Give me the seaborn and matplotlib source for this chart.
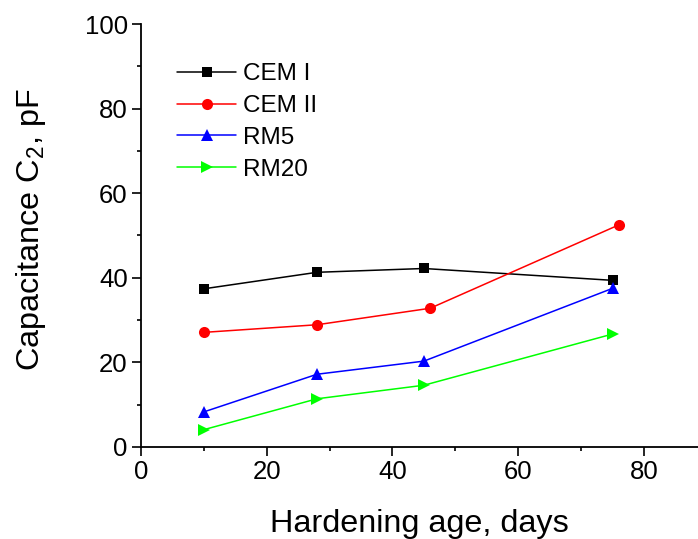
import matplotlib
matplotlib.use("Agg")
import matplotlib.pyplot as plt
import seaborn as sns
import pandas as pd
from matplotlib.ticker import MultipleLocator

series = ["CEM I", "CEM II", "RM5", "RM20"]
days_cem1 = [10, 28, 45, 75]
cap_cem1 = [37.4, 41.3, 42.2, 39.4]
days_cem2 = [10, 28, 46, 76]
cap_cem2 = [27.1, 28.9, 32.8, 52.5]
days_rm5 = [10, 28, 45, 75]
cap_rm5 = [8.3, 17.2, 20.3, 37.5]
days_rm20 = [10, 28, 45, 75]
cap_rm20 = [4.1, 11.4, 14.6, 26.7]

colors = {"CEM I": "#000000", "CEM II": "#ff0000", "RM5": "#0000ff", "RM20": "#00ff00"}
markers = {"CEM I": "s", "CEM II": "o", "RM5": "^", "RM20": ">"}
msizes = {"CEM I": 7, "CEM II": 8, "RM5": 9, "RM20": 9}

frames = []
for name, xs, ys in [("CEM I", days_cem1, cap_cem1), ("CEM II", days_cem2, cap_cem2),
                     ("RM5", days_rm5, cap_rm5), ("RM20", days_rm20, cap_rm20)]:
    frames.append(pd.DataFrame({"days": xs, "cap": ys, "series": name}))
df = pd.concat(frames, ignore_index=True)

sns.set_style("ticks")
plt.rcParams['font.family'] = ['Liberation Sans', 'DejaVu Sans']
plt.rcParams['mathtext.fontset'] = 'custom'
plt.rcParams['mathtext.rm'] = 'Liberation Sans'
plt.rcParams['mathtext.it'] = 'Liberation Sans:italic'
for k in ['text.color', 'axes.labelcolor', 'xtick.color', 'ytick.color', 'axes.edgecolor']:
    plt.rcParams[k] = 'black'

fig = plt.figure(figsize=(6.98, 5.39), dpi=100)
ax = fig.add_axes([141/698, 1 - 447/539, 1 - 141/698, (447 - 24)/539])

for name in series:
    sub = df[df["series"] == name]
    sns.lineplot(data=sub, x="days", y="cap", ax=ax, color=colors[name],
                 marker=markers[name], markersize=msizes[name], markeredgewidth=0,
                 linewidth=1.1, label=name, sort=False)

ax.set_xlim(0, 88.6)
ax.set_ylim(0, 100)
ax.xaxis.set_major_locator(MultipleLocator(20))
ax.xaxis.set_minor_locator(MultipleLocator(10))
ax.yaxis.set_major_locator(MultipleLocator(20))
ax.yaxis.set_minor_locator(MultipleLocator(10))
ax.tick_params(which='major', direction='out', length=6.5, width=1.2, labelsize=18.5, pad=3)
ax.tick_params(which='minor', direction='out', length=3.2, width=1.2)
for s in ['top', 'right']:
    ax.spines[s].set_visible(False)
for s in ['left', 'bottom']:
    ax.spines[s].set_linewidth(1.3)

ax.set_xlabel("Hardening age, days", fontsize=23.3, labelpad=18)
ax.set_ylabel("Capacitance C$_\\mathrm{2}$, pF", fontsize=23.3)
ax.yaxis.set_label_coords(-0.167, 0.513)

handles, labels = ax.get_legend_handles_labels()
ax.legend(handles, labels, loc='upper left', bbox_to_anchor=(0.048, 0.93),
          frameon=False, fontsize=17.5, handlelength=2.4, handletextpad=0.3,
          labelspacing=0.4, borderaxespad=0)

fig.savefig("out.png", dpi=100)
